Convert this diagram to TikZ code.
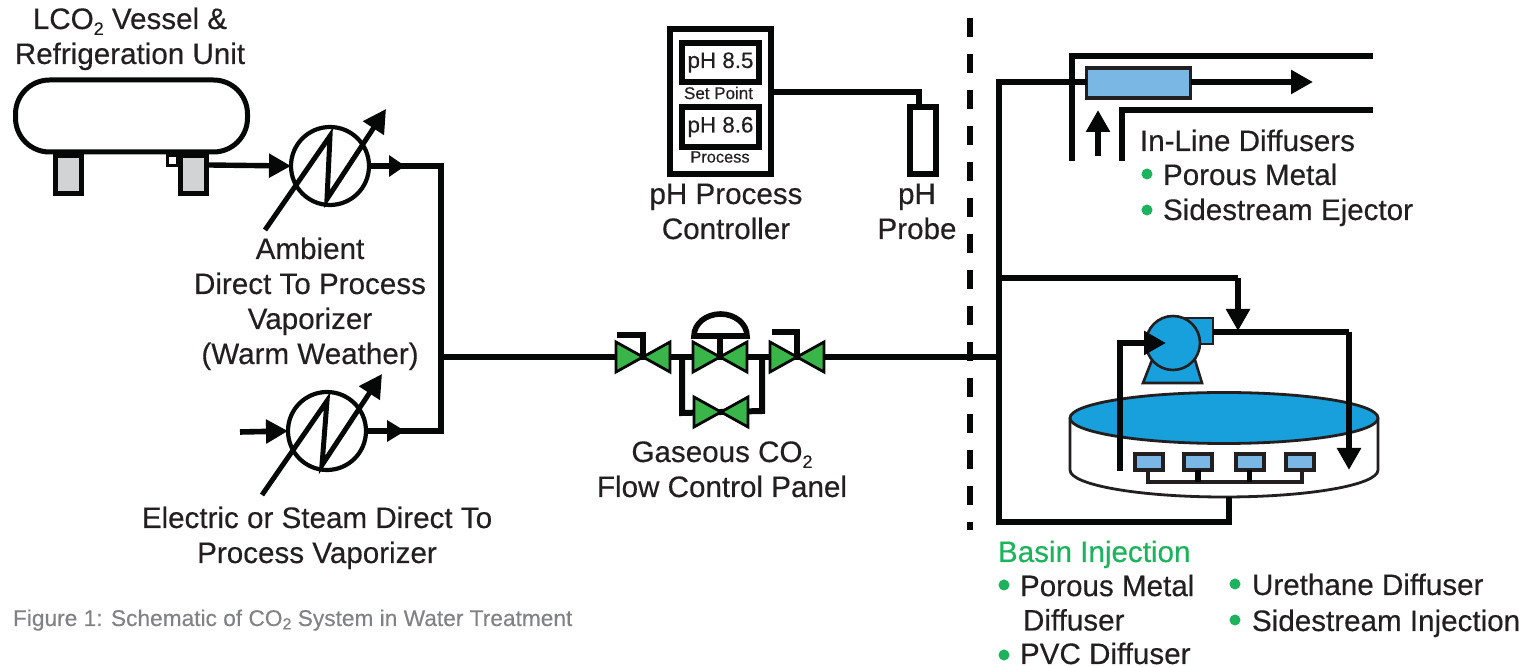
\documentclass[tikz,border=0pt]{standalone}
\usepackage{fontspec}
\setmainfont{Liberation Sans}[RawFeature={embolden=0.35}]
\usetikzlibrary{arrows.meta,shapes.geometric}
\definecolor{ink}{HTML}{231F20}
\definecolor{pipeblack}{HTML}{060808}
\definecolor{valvegreen}{HTML}{39B54A}
\definecolor{bulletgreen}{HTML}{1CB35C}
\definecolor{water}{HTML}{18A0DC}
\definecolor{diffblue}{HTML}{7AB7E4}
\definecolor{leggray}{HTML}{D1D3D4}
\definecolor{capgray}{HTML}{808285}
\newcommand{\subtwo}{\raisebox{-0.2em}{\fontsize{9}{9}\selectfont 2}}
\tikzset{
  x=0.5pt,y=-0.5pt,
  pipe/.style={line width=3pt,draw=pipeblack,line join=miter},
  thin pipe/.style={line width=2.7pt,draw=pipeblack},
  head/.style={-{Triangle[length=11pt,width=11.5pt]}},
  label/.style={font=\fontsize{14.8}{17.5}\selectfont,text=ink,inner sep=0pt,outer sep=0pt,anchor=base,align=center},
  leftlabel/.style={font=\fontsize{14.8}{17.5}\selectfont,text=ink,inner sep=0pt,outer sep=0pt,anchor=base west,align=left},
  bullet/.style={circle,fill=bulletgreen,inner sep=0pt,minimum size=5.5pt},
  vessel/.style={draw=pipeblack,line width=2.5pt,fill=white,rounded corners=17pt,minimum width=116pt,minimum height=36pt,inner sep=0pt,outer sep=0pt},
  legbox/.style={draw=pipeblack,line width=2.5pt,fill=leggray,minimum width=13pt,minimum height=19pt,inner sep=0pt,outer sep=0pt},
  vapor/.style={circle,draw=pipeblack,line width=2.1pt,fill=white,minimum size=39pt,inner sep=0pt,outer sep=0pt},
  zig/.style={line width=2.5pt,draw=pipeblack,line join=miter,miter limit=10,-{Triangle[length=11.5pt,width=12pt]}},
  panel/.style={draw=pipeblack,line width=3pt,fill=white,inner sep=0pt,outer sep=0pt},
  bluebox/.style={draw=ink,line width=1.7pt,fill=diffblue,inner sep=0pt,outer sep=0pt},
  pumpshape/.style={draw=ink,line width=1.3pt,fill=water},
  tankline/.style={draw=ink,line width=1.4pt},
  pics/valveshape/.style={code={
    \draw[draw=pipeblack,fill=valvegreen,line width=1.4pt,line join=miter] (0,0) -- (-27,-15) -- (-27,15) -- cycle;
    \draw[draw=pipeblack,fill=valvegreen,line width=1.4pt,line join=miter] (0,0) -- (27,-15) -- (27,15) -- cycle;
  }}
}
\begin{document}
\begin{tikzpicture}
\useasboundingbox (0,0) rectangle (1528,667);
% --- coordinates
\coordinate (v1) at (643,357);
\coordinate (v2) at (720,357);
\coordinate (v3) at (797,357);
\coordinate (v4) at (721,412);
\coordinate (junc) at (999,357);
\coordinate (riser) at (441,357);
% --- vessel
\node[legbox] (legL) at (68.5,175) {};
\node[legbox] (legR) at (193.5,175) {};
\node[vessel] (tank) at (131.5,116) {};
\node[draw=pipeblack,line width=1.5pt,fill=white,minimum width=5pt,minimum height=5pt,inner sep=0pt,outer sep=0pt] (nozzle) at (172.5,161) {};
\node[legbox] (legRtop) at (193.5,175) {};
% --- vaporizers
\node[vapor] (vapA) at (330,166) {};
\node[vapor] (vapB) at (327,431) {};
\coordinate (vapAin) at (209,165);
\coordinate (vapBin) at (240,432);
\coordinate (rtop) at (441,166);
\coordinate (rbot) at (441,431);
\draw[thin pipe,head] (vapAin) -- (vapA.west);
\draw[pipe,line width=2.8pt,head] (vapBin) -- (vapB.west);
\draw[pipe] (vapA.east) -- (rtop) -- (rbot) -- (vapB.east);
\path[fill=pipeblack] (389,155) -- (405,166) -- (389,177) -- cycle;
\path[fill=pipeblack] (387,420) -- (405,431) -- (387,442) -- cycle;
\draw[zig] (265,230) -- (330,136) -- (327,199) -- (386,109);
\draw[zig] (262,495) -- (327,401) -- (322,465) -- (382,374);
% --- gas panel pipes
\coordinate (bl) at (682,357);
\coordinate (br) at (762,357);
\coordinate (blb) at (682,413);
\coordinate (brb) at (762,411);
\draw[pipe] (riser) -- (v1) -- (v3) -- (junc);
\draw[pipe] (bl) -- (blb) -- (v4) -- (brb) -- (br);
\draw[pipe] (617,335) -- (643,335) -- (v1);
\draw[pipe] (772,332) -- (797,332) -- (v3);
\draw[pipe] (v2) -- (720,335);
\draw[pipe,line width=2.8pt] (694,336) arc[start angle=180,end angle=0,x radius=26.5,y radius=-22] -- cycle;
\pic at (v1) {valveshape};
\pic at (v2) {valveshape};
\pic at (v3) {valveshape};
\pic at (v4) {valveshape};
\draw[pipe] (720,352) -- (720,335);
% --- controller
\node[panel,minimum width=50.5pt,minimum height=72.5pt] (ctrl) at (720.5,101.5) {};
\node[panel,minimum width=38.5pt,minimum height=19.5pt,font=\fontsize{11.2}{11}\selectfont,text=ink] (sp) at (720.5,62.5) {pH 8.5};
\node[panel,minimum width=38.5pt,minimum height=20pt,font=\fontsize{11.2}{11}\selectfont,text=ink] (pv) at (720.5,127) {pH 8.6};
\node[font=\fontsize{8.5}{9}\selectfont,text=ink,inner sep=0pt] (splab) at (718.5,93) {Set Point};
\node[font=\fontsize{8.2}{8}\selectfont,text=ink,inner sep=0pt] (pvlab) at (720,157) {Process};
\node[panel,minimum width=13pt,minimum height=33.5pt] (probe) at (923,140.5) {};
\coordinate (pbend) at (919,92);
\draw[thin pipe] (ctrl.east |- pbend) -- (pbend) -- (pbend |- probe.north);
% --- divider
\coordinate (dtop) at (970,18);
\coordinate (dbot) at (970,530);
\draw[line width=3.2pt,draw=pipeblack,dash pattern=on 9.5pt off 8.5pt] (dtop) -- (dbot);
% --- in-line diffuser
\node[bluebox,minimum width=52pt,minimum height=15pt] (inl) at (1138.5,83) {};
\coordinate (pt) at (999,82);
\coordinate (pb) at (999,522);
\coordinate (pbr) at (1229,522);
\coordinate (pbu) at (1229,497);
\draw[pipe] (junc) -- (pt) -- (pt -| inl.west);
\coordinate (atip) at (1313,82);
\draw[pipe,head] (pt -| inl.east) -- (atip);
\coordinate (p1a) at (1373,56); \coordinate (p1b) at (1072,56); \coordinate (p1c) at (1072,161);
\coordinate (p2a) at (1373,110); \coordinate (p2b) at (1122,110); \coordinate (p2c) at (1122,161);
\coordinate (upa) at (1098,156); \coordinate (upb) at (1098,110);
\draw[pipe] (p1a) -- (p1b) -- (p1c);
\draw[pipe] (p2a) -- (p2b) -- (p2c);
\draw[pipe,head] (upa) -- (upb);
% --- basin
\coordinate (tl) at (1070,418); \coordinate (tr) at (1378,418);
\path[fill=white] (tl) -- (1070,470) arc[start angle=180,end angle=360,x radius=154,y radius=-27] -- (tr) -- cycle;
\draw[tankline] (tl) -- (1070,470) arc[start angle=180,end angle=360,x radius=154,y radius=-27] -- (tr);
\node[ellipse,draw=ink,line width=1.4pt,fill=water,minimum width=154pt,minimum height=25.5pt,inner sep=0pt,outer sep=0pt] (basin) at (1224,418) {};
% basin feed loop
\draw[pipe] (junc) -- (pb) -- (pbr) -- (pbu);
% diffusers
\foreach \n/\xx in {a/1148.5,b/1198,c/1249.5,d/1299.5}{
  \node[draw=ink,line width=2pt,fill=diffblue,minimum width=14pt,minimum height=8pt,inner sep=0pt,outer sep=0pt] (d\n) at (\xx,462) {};
}
\coordinate (manL) at (1148,482); \coordinate (manR) at (1302,482);
\draw[line width=2pt,draw=ink] (manL |- da.south) -- (manL) -- (manR) -- (manR |- dd.south);
\draw[line width=2.8pt,draw=pipeblack] (db.south) -- (db.south |- manL);
\draw[line width=2.8pt,draw=pipeblack] (dc.south) -- (dc.south |- manL);
% --- pump
\coordinate (pumpc) at (1173,343);
\path[pumpshape,draw=ink] (1152,360) -- (1195,360) -- (1202,383) -- (1143,383) -- cycle;
\node[pumpshape,minimum width=20pt,minimum height=13pt,inner sep=0pt,outer sep=0pt] (outlet) at (1193,331) {};
\node[pumpshape,circle,minimum size=27pt,inner sep=0pt,outer sep=0pt] (pump) at (pumpc) {};
\coordinate (feedT) at (1238,278);
\coordinate (feedB) at (1238,331);
\coordinate (retA) at (1349,332);
\coordinate (retB) at (1349,470);
\coordinate (inA) at (1120,471);
\coordinate (inB) at (1120,343);
\coordinate (inC) at (1166,343);
\draw[pipe] (outlet.east |- retA) -- (retA);
\draw[pipe,head] (retA) -- (retB);
\draw[pipe] (999,278) -- (feedT);
\draw[pipe,head] (feedT) -- (feedB);
\draw[pipe] (inA) -- (inB) -- (1150,343);
\draw[pipe,head] (1140,343) -- (inC);
% --- labels
\node[label] (l1) at (130,64) {LCO\subtwo{} Vessel \&\\Refrigeration Unit};
\node[label] (l2) at (310,364) {Ambient\\Direct To Process\\Vaporizer\\(Warm Weather)};
\node[label] (l3) at (317,563) {Electric or Steam Direct To\\Process Vaporizer};
\node[label] (l4) at (722,497) {Gaseous CO\subtwo\\Flow Control Panel};
\node[label] (l5) at (726,239) {pH Process\\Controller};
\node[label] (l6) at (917,239) {pH\\Probe};
\node[leftlabel] (l7) at (1140,151) {In-Line Diffusers};
\node[bullet] (b1) at (1147,174) {}; \node[leftlabel] (l8) at (1163,185) {Porous Metal};
\node[bullet] (b2) at (1147,210) {}; \node[leftlabel] (l9) at (1163,220) {Sidestream Ejector};
\node[leftlabel,text=bulletgreen] (l10) at (998,562) {Basin Injection};
\node[bullet] (b3) at (1004,585) {}; \node[leftlabel] (l11) at (1020,630.5) {Porous Metal\\[-0.3pt]\hspace*{1.5pt}Diffuser};
\node[bullet] (b4) at (1004,655) {}; \node[leftlabel] (l12) at (1020,664) {PVC Diffuser};
\node[bullet] (b5) at (1235,584) {}; \node[leftlabel] (l13) at (1252,595) {Urethane Diffuser};
\node[bullet] (b6) at (1235,620) {}; \node[leftlabel] (l14) at (1252,631) {Sidestream Injection};
\node[leftlabel,text=capgray,font=\fontsize{11.35}{13}\selectfont] (cap) at (13,626) {Figure 1: Schematic of CO\raisebox{-0.15em}{\fontsize{8}{8}\selectfont 2} System in Water Treatment};
\end{tikzpicture}
\end{document}
